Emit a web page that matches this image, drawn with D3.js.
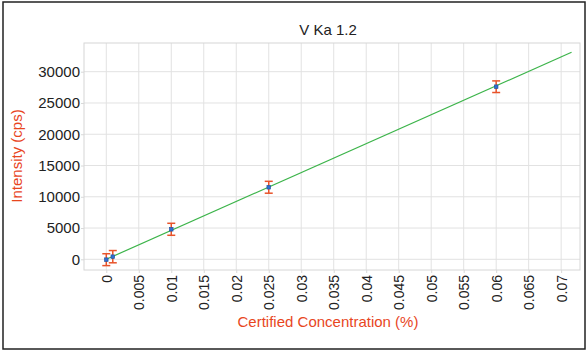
<!DOCTYPE html>
<html>
<head>
<meta charset="utf-8">
<script src="https://cdn.jsdelivr.net/npm/d3@7"></script>
<style>
  body { margin: 0; background: #fff; }
  svg { font-family: 'Liberation Sans', Arial, sans-serif; }
  .grid line { stroke: #e2e2e2; stroke-width: 1; }
  .axis text { fill: #222; font-size: 14px; }
  .axis path { display: none; }
  .axis line { stroke: #d8d8d8; }
</style>
</head>
<body>
<svg id="chart" width="588" height="351"></svg>
<script>
// measured standards
var concentrations = [0, 0.001, 0.01, 0.025, 0.06];
var intensities = [-60, 420, 4800, 11520, 27600];
var errors = [950, 980, 960, 950, 930];

// calibration line
var fitX = [0, 0.0716];
var fitY = [0, 33100];

var xTicks = [0, 0.005, 0.01, 0.015, 0.02, 0.025, 0.03, 0.035, 0.04, 0.045, 0.05, 0.055, 0.06, 0.065, 0.07];
var yTicks = [0, 5000, 10000, 15000, 20000, 25000, 30000];

var margin = {top: 43, right: 8, bottom: 81, left: 84},
    width = 588 - margin.left - margin.right,
    height = 351 - margin.top - margin.bottom;

var svg = d3.select('#chart');

svg.append('rect')
   .attr('x', 3).attr('y', 2)
   .attr('width', 582).attr('height', 347)
   .attr('fill', 'none')
   .attr('stroke', '#222')
   .attr('stroke-width', 1.5);

var g = svg.append('g')
           .attr('transform', 'translate(' + margin.left + ',' + margin.top + ')');

var x = d3.scaleLinear().domain([-0.00343, 0.0729]).range([0, width]);
var y = d3.scaleLinear().domain([-1711, 34590]).range([height, 0]);

// grid
var grid = g.append('g').attr('class', 'grid');
grid.selectAll('.vx')
    .data(xTicks)
    .enter().append('line')
    .attr('x1', d => x(d)).attr('x2', d => x(d))
    .attr('y1', 0).attr('y2', height);
grid.selectAll('.hy')
    .data(yTicks)
    .enter().append('line')
    .attr('x1', 0).attr('x2', width)
    .attr('y1', d => y(d)).attr('y2', d => y(d));

g.append('rect')
 .attr('width', width).attr('height', height)
 .attr('fill', 'none')
 .attr('stroke', '#d6d6d6');

// axes
g.append('g')
 .attr('class', 'axis')
 .call(d3.axisLeft(y).tickValues(yTicks).tickSize(3).tickPadding(1).tickFormat(d3.format('d')))
 .selectAll('text')
 .style('font-size', '15px');

g.append('g')
 .attr('class', 'axis')
 .attr('transform', 'translate(0,' + height + ')')
 .call(d3.axisBottom(x).tickValues(xTicks).tickSize(3).tickPadding(3).tickFormat(d => String(d)))
 .selectAll('text')
 .attr('transform', 'rotate(-90)')
 .attr('text-anchor', 'end')
 .attr('dy', '0.35em')
 .attr('x', -5)
 .attr('y', 0);

// titles
svg.append('text')
   .attr('x', 328).attr('y', 35)
   .attr('text-anchor', 'middle')
   .attr('font-size', 15)
   .attr('fill', '#222')
   .text('V Ka 1.2');

svg.append('text')
   .attr('x', 328).attr('y', 327)
   .attr('text-anchor', 'middle')
   .attr('font-size', 15)
   .attr('fill', '#e8461e')
   .text('Certified Concentration (%)');

svg.append('text')
   .attr('transform', 'translate(22,156) rotate(-90)')
   .attr('text-anchor', 'middle')
   .attr('font-size', 15)
   .attr('fill', '#e8461e')
   .text('Intensity (cps)');

// fit line
var line = d3.line().x(d => x(d[0])).y(d => y(d[1]));
g.append('path')
 .datum(d3.zip(fitX, fitY))
 .attr('fill', 'none')
 .attr('stroke', '#3cb44a')
 .attr('stroke-width', 1.2)
 .attr('d', line);

// error bars
var pts = concentrations.map((c, i) => ({c: c, v: intensities[i], e: errors[i]}));
var eb = g.append('g').attr('stroke', '#e8532a').attr('stroke-width', 1.5);
eb.selectAll('.stem').data(pts).enter().append('line')
  .attr('x1', d => x(d.c)).attr('x2', d => x(d.c))
  .attr('y1', d => y(d.v - d.e)).attr('y2', d => y(d.v + d.e));
eb.selectAll('.capt').data(pts).enter().append('line')
  .attr('x1', d => x(d.c) - 4).attr('x2', d => x(d.c) + 4)
  .attr('y1', d => y(d.v + d.e)).attr('y2', d => y(d.v + d.e));
eb.selectAll('.capb').data(pts).enter().append('line')
  .attr('x1', d => x(d.c) - 4).attr('x2', d => x(d.c) + 4)
  .attr('y1', d => y(d.v - d.e)).attr('y2', d => y(d.v - d.e));

// points
g.selectAll('.pt').data(pts).enter().append('rect')
 .attr('x', d => x(d.c) - 1.8).attr('y', d => y(d.v) - 1.8)
 .attr('width', 3.6).attr('height', 3.6)
 .attr('fill', '#2f6fd0')
 .attr('stroke', '#1e4c9a')
 .attr('stroke-width', 0.6);
</script>
</body>
</html>
